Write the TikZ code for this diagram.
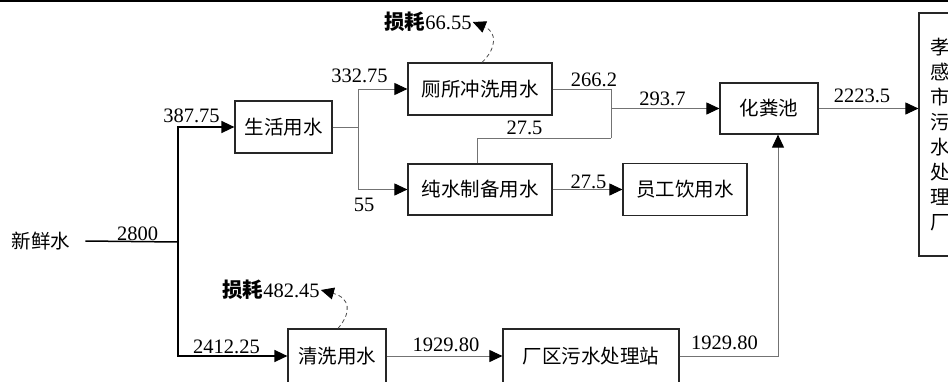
\documentclass[tikz,border=0pt]{standalone}
\usepackage{fontspec}
\setmainfont{Liberation Serif}
\newfontfamily\cjk{Noto Sans CJK SC}
\usetikzlibrary{arrows.meta}
\begin{document}
\begin{tikzpicture}[x=1pt,y=-1pt,
  box/.style={draw=black!85,line width=1.2pt,inner sep=0pt,font=\cjk\fontsize{19.5}{25}\selectfont},
  lbl/.style={inner sep=0pt,font=\fontsize{20.5}{24}\selectfont},
  zh/.style={inner sep=0pt,font=\cjk\fontsize{19.5}{24}\selectfont},
  loss/.style={inner sep=1pt,font=\fontsize{20.5}{24}\selectfont},
  blk/.style={draw=black,line width=1.5pt},
  gr/.style={draw=black!55,line width=1pt},
  tip/.style={-{Triangle[length=13pt,width=12pt,color=black]}},
  dsh/.style={draw=black!70,line width=0.8pt,dash pattern=on 4pt off 3pt}]
\useasboundingbox (0,0) rectangle (948,381);
\clip (0,0) rectangle (948,381);
\draw[line width=1.5pt] (0,1) -- (948,1);
% boxes
\node[box,minimum width=97pt,minimum height=52pt] (shz) at (283.5,127) {生活用水};
\node[box,minimum width=144pt,minimum height=52pt] (cs) at (480,89) {厕所冲洗用水};
\node[box,minimum width=144pt,minimum height=51pt] (cw) at (480,189.5) {纯水制备用水};
\node[box,minimum width=124pt,minimum height=52pt] (yg) at (685,189.5) {员工饮用水};
\node[box,minimum width=98pt,minimum height=51pt] (hf) at (769,108.5) {化粪池};
\node[box,minimum width=98pt,minimum height=54pt] (qx) at (337,356) {清洗用水};
\node[box,minimum width=176pt,minimum height=54pt] (cq) at (591,356) {厂区污水处理站};
\node[box,minimum width=42pt,minimum height=243pt,align=center] (xg) at (940,134.5) {孝\\感\\市\\污\\水\\处\\理\\厂};
% texts
\node[zh] (xxs) at (41,241) {新鲜水};
\node[loss] (ls1) at (428,22) {{\cjk\bfseries 损耗}66.55};
\node[loss] (ls2) at (271,290) {{\cjk\bfseries 损耗}482.45};
\node[lbl] (n1) at (191.5,115.5) {387.75};
\node[lbl] (n2) at (359.5,75.5) {332.75};
\node[lbl] (n3) at (364,205) {55};
\node[lbl] (n4) at (137.5,233.5) {2800};
\node[lbl] (n5) at (226.5,346.5) {2412.25};
\node[lbl] (n6) at (446,345) {1929.80};
\node[lbl] (n7) at (724.5,342.5) {1929.80};
\node[lbl] (n8) at (594,80) {266.2};
\node[lbl] (n9) at (662.5,98.5) {293.7};
\node[lbl] (n10) at (524.5,127.5) {27.5};
\node[lbl] (n11) at (588.5,181.5) {27.5};
\node[lbl] (n12) at (862,96) {2223.5};
% junctions
\coordinate (j0) at (178,242);
\coordinate (j1) at (358,127);
\coordinate (j2) at (611,138);
\coordinate (j3) at (611,108.5);
% black connectors
\draw[blk] ([xshift=15pt]xxs.east) -- (j0);
\draw[blk,tip] (j0) |- (shz.west);
\draw[blk,tip] (j0) |- (qx.west);
% gray connectors
\draw[gr] (shz.east) -- (j1);
\draw[gr,tip] (j1) |- (cs.west);
\draw[gr,tip] (j1) |- (cw.west);
\draw[gr] (cs.east) -| (j2);
\draw[gr] ([xshift=-3pt]cw.north) |- (j2);
\draw[gr,tip] (j3) -- (hf.west);
\draw[gr,tip] (cw.east) -- (yg.west);
\draw[gr,tip] (hf.east) -- (xg.west |- hf.east);
\draw[gr,tip] (qx.east) -- (cq.west);
\draw[gr,tip] (cq.east) -| ([xshift=9pt]hf.south);
% dashed loss arrows
\draw[dsh,tip] ([xshift=2pt]cs.north) .. controls (497,48) and (497,32) .. (ls1.east);
\draw[dsh,tip] ([xshift=1pt]qx.north) .. controls (352,312) and (350,298) .. (ls2.east);
\end{tikzpicture}
\end{document}
